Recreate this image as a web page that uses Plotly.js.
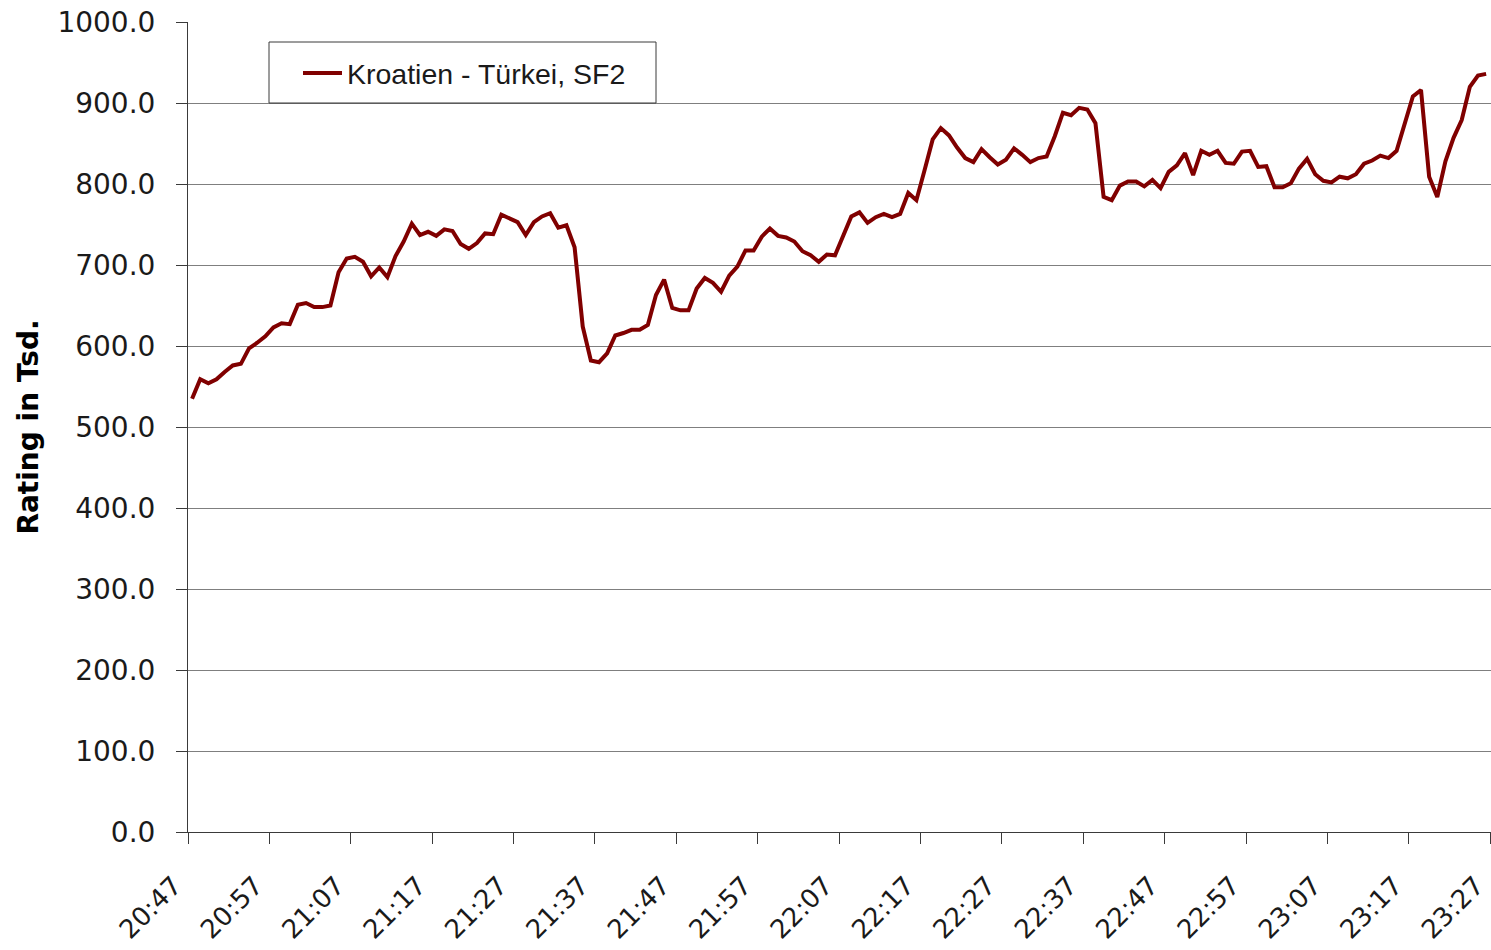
<!DOCTYPE html>
<html>
<head>
<meta charset="utf-8">
<script src="https://cdn.plot.ly/plotly-3.0.1.min.js"></script>
<style>
  html, body { margin: 0; padding: 0; background: #ffffff; overflow: hidden; }
  #chart { width: 1491px; height: 950px; }
</style>
</head>
<body>
<div id="chart"></div>
<script>
// Series name
const seriesName = "Kroatien - Türkei, SF2";

// Rating in Tsd., one value per minute
const ratings = [
  535, 559, 554, 559, 568, 576, 578, 597, 604, 612,
  623, 628, 627, 651, 653, 648, 648, 650, 691, 708,
  710, 704, 686, 697, 685, 711, 729, 751, 737, 741,
  736, 744, 742, 726, 720, 727, 739, 738, 762, 757,
  753, 737, 753, 760, 764, 746, 749, 722, 624, 582,
  580, 591, 613, 616, 620, 620, 626, 663, 682, 647,
  644, 644, 671, 684, 678, 667, 687, 698, 718, 718,
  735, 745, 736, 734, 729, 717, 712, 704, 713, 712,
  735, 760, 765, 752, 759, 763, 759, 763, 789, 780,
  817, 855, 869, 860, 845, 832, 827, 843, 833, 824,
  830, 844, 836, 827, 832, 834, 859, 888, 885, 894,
  892, 875, 784, 780, 798, 803, 803, 797, 805, 795,
  815, 823, 838, 811, 841, 836, 841, 826, 825, 840,
  841, 821, 822, 796, 796, 801, 819, 831, 812, 804,
  802, 809, 807, 812, 825, 829, 835, 832, 841, 874,
  908, 916, 809, 784, 828, 857, 879, 920, 934, 936
];

// Category axis tick labels (every 10 minutes)
const tickLabels = [
  "20:47", "20:57", "21:07", "21:17", "21:27", "21:37", "21:47", "21:57",
  "22:07", "22:17", "22:27", "22:37", "22:47", "22:57", "23:07", "23:17", "23:27"
];

// Minute index of each point (category positions)
const minuteIndex = ratings.map((_, i) => i);
// Ticks sit on category boundaries, every 10 categories
const tickPositions = tickLabels.map((_, k) => k * 10 - 0.5);

const W = 1491, H = 950;
const M = { l: 188, r: 0, t: 22, b: 118 };
const plotW = W - M.l - M.r, plotH = H - M.t - M.b;
// helpers: page pixels -> paper coordinates (for the legend box)
const px = x => (x - M.l) / plotW;
const py = y => (H - M.b - y) / plotH;

const trace = {
  x: minuteIndex,
  y: ratings,
  type: "scatter",
  mode: "lines",
  name: seriesName,
  line: { color: "#800000", width: 4 },
  hoverinfo: "y",
  showlegend: false
};

const axisColor = "#3a3a3a";
const legendY = 73;

const layout = {
  width: W,
  height: H,
  margin: { l: M.l, r: M.r, t: M.t, b: M.b, pad: 0 },
  paper_bgcolor: "#ffffff",
  plot_bgcolor: "#ffffff",
  font: { family: "DejaVu Sans, sans-serif", color: "#1a1a1a" },
  showlegend: false,
  xaxis: {
    range: [-0.5, 159.6],
    tickmode: "array",
    tickvals: tickPositions,
    ticktext: tickLabels,
    tickangle: -45,
    ticks: "outside",
    ticklen: 11,
    tickwidth: 1,
    tickcolor: axisColor,
    ticklabelstandoff: 16,
    ticklabelshift: -14,
    showline: true,
    linecolor: axisColor,
    linewidth: 1,
    showgrid: false,
    zeroline: false,
    tickfont: { family: "DejaVu Sans, sans-serif", size: 26, color: "#1a1a1a" },
    fixedrange: true
  },
  yaxis: {
    range: [0, 1000],
    tick0: 0,
    dtick: 100,
    tickformat: ".1f",
    ticks: "outside",
    ticklen: 11,
    tickwidth: 1,
    tickcolor: axisColor,
    ticklabelstandoff: 15,
    showline: true,
    linecolor: axisColor,
    linewidth: 1,
    showgrid: true,
    gridcolor: "#7f7f7f",
    gridwidth: 1,
    zeroline: false,
    tickfont: { family: "DejaVu Sans, sans-serif", size: 28, color: "#1a1a1a" },
    title: {
      text: "Rating in Tsd.",
      font: { family: "DejaVu Sans, sans-serif", size: 28, color: "#000000", weight: "bold" },
      standoff: 10
    },
    fixedrange: true
  },
  shapes: [
    { type: "rect", xref: "paper", yref: "paper",
      x0: px(269), x1: px(656), y0: py(103), y1: py(42),
      fillcolor: "#ffffff", line: { color: axisColor, width: 1 }, layer: "above" },
    { type: "line", xref: "paper", yref: "paper",
      x0: px(303), x1: px(342), y0: py(legendY), y1: py(legendY),
      line: { color: "#800000", width: 4 }, layer: "above" }
  ],
  annotations: [
    { xref: "paper", yref: "paper", x: px(345), y: py(legendY + 1),
      xanchor: "left", yanchor: "middle", showarrow: false,
      text: seriesName,
      font: { family: "Liberation Sans, sans-serif", size: 28.5, color: "#1a1a1a" } }
  ]
};

Plotly.newPlot("chart", [trace], layout, { displayModeBar: false, staticPlot: true });
</script>
</body>
</html>
